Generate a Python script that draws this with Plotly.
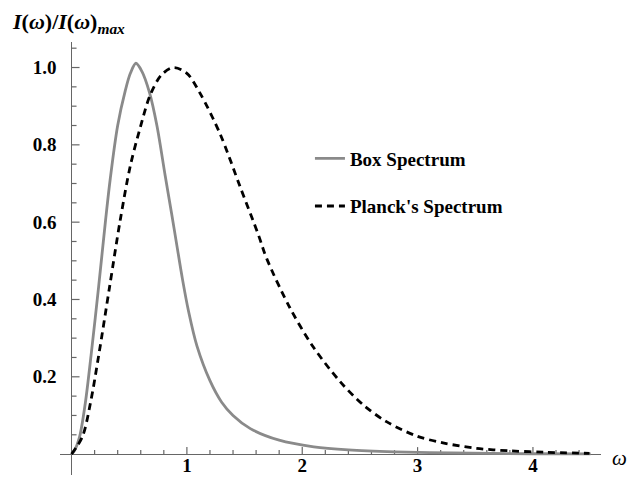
import plotly.graph_objects as go

# Normalised spectral intensity I(w)/I(w)_max for the two spectra
box_w = [0.0, 0.027, 0.07, 0.119, 0.171, 0.235, 0.295, 0.336, 0.40, 0.466,
         0.51, 0.558, 0.61, 0.676, 0.740, 0.812, 0.870, 0.913, 0.962, 1.014,
         1.087, 1.20, 1.30, 1.40, 1.55, 1.80, 2.10, 2.40, 2.80, 3.30, 4.00, 4.50]
box_i = [0.0, 0.01, 0.045, 0.131, 0.26, 0.433, 0.605, 0.713, 0.85, 0.94,
         0.985, 1.011, 0.99, 0.935, 0.85, 0.72, 0.618, 0.54, 0.452, 0.37,
         0.28, 0.19, 0.135, 0.10, 0.066, 0.036, 0.019, 0.011, 0.006, 0.003,
         0.001, 0.0005]

planck_w = [0.0, 0.094, 0.163, 0.238, 0.33, 0.422, 0.509, 0.596, 0.682,
            0.78, 0.884, 1.0, 1.115, 1.288, 1.461, 1.62, 1.693, 1.894,
            2.096, 2.327, 2.53, 2.73, 2.99, 3.22, 3.51, 3.80, 4.09, 4.49]
planck_i = [0.0, 0.045, 0.131, 0.26, 0.433, 0.605, 0.745, 0.845, 0.929,
            0.981, 1.0, 0.985, 0.933, 0.828, 0.692, 0.567, 0.505, 0.378,
            0.277, 0.188, 0.127, 0.084, 0.047, 0.029, 0.015, 0.0085, 0.005, 0.002]

x_range = [-0.1, 4.59]
y_range = [-0.054, 1.066]
x_major = [1, 2, 3, 4]
x_minor = [0.2, 0.4, 0.6, 0.8, 1.2, 1.4, 1.6, 1.8, 2.2, 2.4, 2.6, 2.8,
           3.2, 3.4, 3.6, 3.8, 4.2, 4.4]
y_major = [0.2, 0.4, 0.6, 0.8, 1.0]
y_labels = ["0.2", "0.4", "0.6", "0.8", "1.0"]
y_minor = [0.05, 0.1, 0.15, 0.25, 0.3, 0.35, 0.45, 0.5, 0.55, 0.65, 0.7,
           0.75, 0.85, 0.9, 0.95, 1.05]

serif = "Liberation Serif, Times New Roman, serif"
axis_col = "#666666"

fig = go.Figure()
fig.add_trace(go.Scatter(
    x=box_w, y=box_i, mode="lines", name="Box Spectrum",
    legendgroup="a",
    line=dict(color="#8a8a8a", width=2.8, shape="spline", smoothing=0.9),
))
fig.add_trace(go.Scatter(
    x=planck_w, y=planck_i, mode="lines", name="Planck's Spectrum",
    legendgroup="b",
    line=dict(color="black", width=2.8, dash="7px,5px", shape="spline", smoothing=0.9),
))

# tick marks sit on the axes that cross at the origin (lengths in pixels)
tick_shapes = []
for v, ln in [(v, 7) for v in x_major] + [(v, 4) for v in x_minor]:
    tick_shapes.append(dict(
        type="line", xref="x", yref="y", x0=v, x1=v,
        ysizemode="pixel", yanchor=0, y0=0, y1=ln,
        line=dict(color=axis_col, width=1.2), layer="below"))
for v, ln in [(v, 8) for v in y_major] + [(v, 5) for v in y_minor]:
    tick_shapes.append(dict(
        type="line", xref="x", yref="y", y0=v, y1=v,
        xsizemode="pixel", xanchor=0, x0=0, x1=ln,
        line=dict(color=axis_col, width=1.2), layer="below"))

x_pos = (0 - x_range[0]) / (x_range[1] - x_range[0])
y_pos = (0 - y_range[0]) / (y_range[1] - y_range[0])

fig.update_layout(
    width=627, height=479,
    margin=dict(l=60, r=26, t=42, b=4),
    plot_bgcolor="white", paper_bgcolor="white",
    showlegend=True,
    legend=dict(
        x=0.462, y=0.775, xanchor="left", yanchor="top",
        font=dict(family=serif, size=19, color="black", weight="bold"),
        tracegroupgap=20, bgcolor="rgba(0,0,0,0)",
    ),
    xaxis=dict(
        range=x_range, anchor="free", position=y_pos,
        showgrid=False, showline=False,
        zeroline=True, zerolinecolor=axis_col, zerolinewidth=1.4,
        tickmode="array", tickvals=x_major, ticktext=[str(v) for v in x_major],
        ticks="", ticklabelstandoff=-2,
        tickfont=dict(family=serif, size=19, color="black", weight="bold"),
        automargin=False,
    ),
    yaxis=dict(
        range=y_range, anchor="free", position=x_pos,
        showgrid=False, showline=False,
        zeroline=True, zerolinecolor=axis_col, zerolinewidth=1.4,
        tickmode="array", tickvals=y_major, ticktext=y_labels,
        ticks="", ticklabelstandoff=15,
        tickfont=dict(family=serif, size=19, color="black", weight="bold"),
        automargin=False,
    ),
    shapes=tick_shapes,
    annotations=[
        dict(text="<b><i>I</i>(<i>ω</i>)/<i>I</i>(<i>ω</i>)<sub><i>max</i></sub></b>",
             xref="paper", yref="paper", x=-0.092, y=1.045,
             xanchor="left", yanchor="middle", showarrow=False,
             font=dict(family=serif, size=22, color="black")),
        dict(text="<i>ω</i>", xref="paper", yref="paper", x=1.035, y=y_pos - 0.01,
             xanchor="center", yanchor="middle", showarrow=False,
             font=dict(family=serif, size=21, color="black")),
    ],
)

fig.write_html("out.html")
